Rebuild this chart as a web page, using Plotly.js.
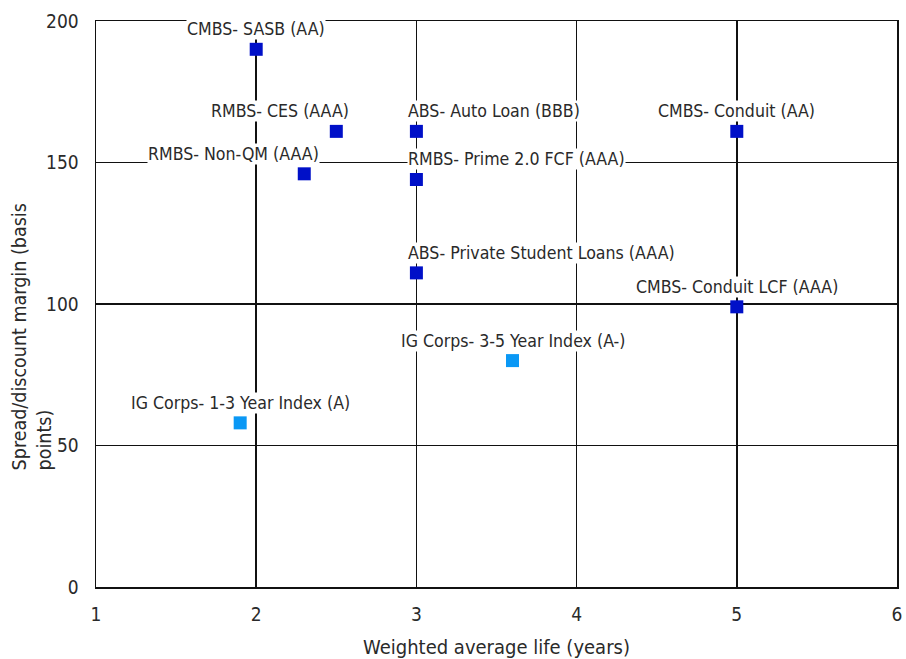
<!DOCTYPE html>
<html>
<head>
<meta charset="utf-8">
<script src="https://cdn.plot.ly/plotly-3.0.1.min.js"></script>
<style>html,body{margin:0;padding:0;background:#fff;}#chart{width:906px;height:659px;}</style>
</head>
<body>
<div id="chart"></div>
<script>
// Securitized products (dark blue)
const secLabels = [
  "CMBS- SASB (AA)",
  "RMBS- CES (AAA)",
  "ABS- Auto Loan (BBB)",
  "CMBS- Conduit (AA)",
  "RMBS- Non-QM (AAA)",
  "RMBS- Prime 2.0 FCF (AAA)",
  "ABS- Private Student Loans (AAA)",
  "CMBS- Conduit LCF (AAA)"
];
const secWAL = [2.0, 2.5, 3.0, 5.0, 2.3, 3.0, 3.0, 5.0];
const secSpread = [190, 161, 161, 161, 146, 144, 111, 99];

// IG corporate indices (light blue)
const igLabels = ["IG Corps- 3-5 Year Index (A-)", "IG Corps- 1-3 Year Index (A)"];
const igWAL = [3.6, 1.9];
const igSpread = [80, 58];

const xTicks = [1, 2, 3, 4, 5, 6];
const yTicks = [0, 50, 100, 150, 200];

const xTitle = "Weighted average life (years)";
const yTitle = "Spread/discount margin (basis<br>points)";

const FONT = "DejaVu Sans Condensed, DejaVu Sans, sans-serif";
const TXT = "#2a2a2a";

// label placement (styling only)
const secPlace = [
  {xanchor: "center", xshift: 0},
  {xanchor: "center", xshift: -56},
  {xanchor: "left", xshift: -9},
  {xanchor: "center", xshift: 0},
  {xanchor: "center", xshift: -71},
  {xanchor: "left", xshift: -9},
  {xanchor: "left", xshift: -9},
  {xanchor: "center", xshift: 0}
];

const annotations = [];
secLabels.forEach((t, i) => {
  annotations.push({
    x: secWAL[i], y: secSpread[i], text: t, showarrow: false,
    xanchor: secPlace[i].xanchor, xshift: secPlace[i].xshift, yshift: 20,
    bgcolor: "#ffffff", borderpad: 0,
    font: {family: FONT, size: 17.6, color: TXT}
  });
});
igLabels.forEach((t, i) => {
  annotations.push({
    x: igWAL[i], y: igSpread[i], text: t, showarrow: false,
    xanchor: "center", yshift: 20,
    bgcolor: "#ffffff", borderpad: 0,
    font: {family: FONT, size: 17.6, color: TXT}
  });
});
// y-axis title (left-aligned two-line block, as in the original)
annotations.push({
  xref: "paper", yref: "paper", x: 0, y: 0.441,
  xanchor: "right", yanchor: "middle", xshift: -38,
  text: yTitle, textangle: -90, align: "left", showarrow: false,
  font: {family: FONT, size: 19.5, color: TXT}
});

const traces = [
  {x: secWAL, y: secSpread, type: "scatter", mode: "markers",
   marker: {symbol: "square", size: 13, color: "#0010c8"}, hoverinfo: "skip"},
  {x: igWAL, y: igSpread, type: "scatter", mode: "markers",
   marker: {symbol: "square", size: 13, color: "#0a98f5"}, hoverinfo: "skip"}
];

const layout = {
  width: 906, height: 659,
  margin: {l: 96, r: 9, t: 21, b: 72},
  paper_bgcolor: "#fff", plot_bgcolor: "#fff",
  showlegend: false,
  font: {family: FONT, color: TXT},
  xaxis: {
    range: [1, 6], tickvals: xTicks, ticktext: xTicks.map(String),
    showgrid: true, gridcolor: "#111", gridwidth: 1.5,
    showline: true, linecolor: "#111", linewidth: 1.5, mirror: true,
    zeroline: false, ticks: "", ticklen: 0, ticklabelstandoff: 10,
    tickfont: {family: FONT, size: 19, color: TXT},
    title: {text: xTitle, font: {family: FONT, size: 20, color: TXT}, standoff: 16}
  },
  yaxis: {
    range: [0, 200], tickvals: yTicks, ticktext: yTicks.map(String),
    showgrid: true, gridcolor: "#111", gridwidth: 1.5,
    showline: true, linecolor: "#111", linewidth: 1.5, mirror: true,
    zeroline: false, ticks: "", ticklen: 0, ticklabelstandoff: 12,
    tickfont: {family: FONT, size: 19, color: TXT}
  },
  annotations: annotations
};

Plotly.newPlot("chart", traces, layout, {staticPlot: true});
</script>
</body>
</html>
